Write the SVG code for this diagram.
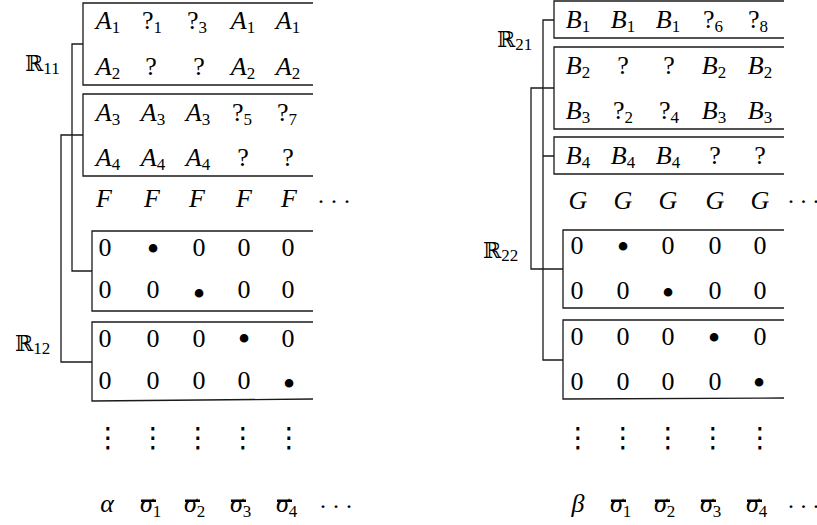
<svg xmlns="http://www.w3.org/2000/svg" width="817" height="525" viewBox="0 0 817 525">
<style>
text{font-family:"Liberation Serif",serif;font-size:26px;fill:#000;text-anchor:middle}
.i{font-style:italic}
.s{font-size:17px;font-style:normal}
.st{text-anchor:start}
.bb{font-family:"DejaVu Serif",serif;font-size:22px}
.bu{font-size:36px}
.vd{font-family:"Noto Sans CJK JP","DejaVu Sans",sans-serif;font-size:28px}
.dots{font-size:24px;text-anchor:start}
.box{fill:none;stroke:#1a1a1a;stroke-width:1.3}
.br{fill:none;stroke:#1a1a1a;stroke-width:1.3}
.bar{fill:#000}
</style>
<rect width="817" height="525" fill="#fff"/>
<g id="connectors">
<path class="br" d="M83,44 H72 V271 H92"/>
<path class="br" d="M83,135 H61 V362 H92"/>
<path class="br" d="M554,20 H543 V360 H563 M543,156 H554"/>
<path class="br" d="M554,88 H531 V269 H563"/>
</g>
<g id="labels">
<text class="st" x="25" y="71"><tspan class="bb">ℝ</tspan><tspan class="s" dy="3">11</tspan></text>
<text class="st" x="15" y="351"><tspan class="bb">ℝ</tspan><tspan class="s" dy="3">12</tspan></text>
<text class="st" x="497" y="47"><tspan class="bb">ℝ</tspan><tspan class="s" dy="3">21</tspan></text>
<text class="st" x="483" y="258"><tspan class="bb">ℝ</tspan><tspan class="s" dy="3">22</tspan></text>
</g>
<g id="box-A12">
<path class="box" d="M313,3 H83 V85 H313"/>
<text x="108" y="29"><tspan class="i">A</tspan><tspan class="s" dy="4">1</tspan></text>
<text x="152" y="29">?<tspan class="s" dy="4">1</tspan></text>
<text x="197" y="29">?<tspan class="s" dy="4">3</tspan></text>
<text x="243" y="29"><tspan class="i">A</tspan><tspan class="s" dy="4">1</tspan></text>
<text x="288" y="29"><tspan class="i">A</tspan><tspan class="s" dy="4">1</tspan></text>
<text x="108" y="75"><tspan class="i">A</tspan><tspan class="s" dy="4">2</tspan></text>
<text x="151" y="75">?</text>
<text x="199" y="75">?</text>
<text x="243" y="75"><tspan class="i">A</tspan><tspan class="s" dy="4">2</tspan></text>
<text x="288" y="75"><tspan class="i">A</tspan><tspan class="s" dy="4">2</tspan></text>
</g>
<g id="box-A34">
<path class="box" d="M313,94 H83 V176 H313"/>
<text x="108" y="121"><tspan class="i">A</tspan><tspan class="s" dy="4">3</tspan></text>
<text x="153" y="121"><tspan class="i">A</tspan><tspan class="s" dy="4">3</tspan></text>
<text x="198" y="121"><tspan class="i">A</tspan><tspan class="s" dy="4">3</tspan></text>
<text x="242" y="121">?<tspan class="s" dy="4">5</tspan></text>
<text x="287" y="121">?<tspan class="s" dy="4">7</tspan></text>
<text x="108" y="166"><tspan class="i">A</tspan><tspan class="s" dy="4">4</tspan></text>
<text x="153" y="166"><tspan class="i">A</tspan><tspan class="s" dy="4">4</tspan></text>
<text x="198" y="166"><tspan class="i">A</tspan><tspan class="s" dy="4">4</tspan></text>
<text x="243" y="166">?</text>
<text x="288" y="166">?</text>
</g>
<g id="row-F">
<text class="i" x="104" y="207">F</text>
<text class="i" x="152" y="207">F</text>
<text class="i" x="197" y="207">F</text>
<text class="i" x="244" y="207">F</text>
<text class="i" x="289" y="207">F</text>
<text class="dots" x="317" y="209">·<tspan dx="5">·</tspan><tspan dx="5">·</tspan></text>
</g>
<g id="box-L0a">
<path class="box" d="M313,231 H92 V311 H313"/>
<text x="105" y="256">0</text>
<text class="bu" x="153" y="261">•</text>
<text x="199" y="256">0</text>
<text x="244" y="256">0</text>
<text x="288" y="256">0</text>
<text x="105" y="298">0</text>
<text x="153" y="298">0</text>
<text class="bu" x="199" y="306">•</text>
<text x="244" y="298">0</text>
<text x="288" y="298">0</text>
</g>
<g id="box-L0b">
<path class="box" d="M313,322 H92 V401 L313,399"/>
<text x="105" y="347">0</text>
<text x="153" y="347">0</text>
<text x="199" y="347">0</text>
<text class="bu" x="244" y="351">•</text>
<text x="288" y="347">0</text>
<text x="105" y="389">0</text>
<text x="153" y="389">0</text>
<text x="199" y="389">0</text>
<text x="244" y="389">0</text>
<text class="bu" x="289" y="396">•</text>
</g>
<g id="vdots-left">
<text class="vd" x="108" y="447">⋮</text>
<text class="vd" x="153" y="447">⋮</text>
<text class="vd" x="198" y="447">⋮</text>
<text class="vd" x="243" y="447">⋮</text>
<text class="vd" x="289" y="447">⋮</text>
</g>
<g id="row-alpha">
<text class="i" x="107" y="512">α</text>
<rect class="bar" x="141" y="499.5" width="15" height="2.5"/>
<text class="st" x="140" y="512"><tspan class="i">σ</tspan><tspan class="s" dy="5">1</tspan></text>
<rect class="bar" x="185" y="499.5" width="15" height="2.5"/>
<text class="st" x="184" y="512"><tspan class="i">σ</tspan><tspan class="s" dy="5">2</tspan></text>
<rect class="bar" x="231" y="499.5" width="15" height="2.5"/>
<text class="st" x="230" y="512"><tspan class="i">σ</tspan><tspan class="s" dy="5">3</tspan></text>
<rect class="bar" x="277" y="499.5" width="15" height="2.5"/>
<text class="st" x="276" y="512"><tspan class="i">σ</tspan><tspan class="s" dy="5">4</tspan></text>
<text class="dots" x="319" y="514">·<tspan dx="5">·</tspan><tspan dx="5">·</tspan></text>
</g>
<g id="box-B1">
<path class="box" d="M784,1 H554 V38 H784"/>
<text x="578" y="28"><tspan class="i">B</tspan><tspan class="s" dy="4">1</tspan></text>
<text x="623" y="28"><tspan class="i">B</tspan><tspan class="s" dy="4">1</tspan></text>
<text x="668" y="28"><tspan class="i">B</tspan><tspan class="s" dy="4">1</tspan></text>
<text x="713" y="28">?<tspan class="s" dy="4">6</tspan></text>
<text x="758" y="28">?<tspan class="s" dy="4">8</tspan></text>
</g>
<g id="box-B23">
<path class="box" d="M784,47 H554 V129 H784"/>
<text x="578" y="74"><tspan class="i">B</tspan><tspan class="s" dy="4">2</tspan></text>
<text x="623" y="74">?</text>
<text x="669" y="74">?</text>
<text x="714" y="74"><tspan class="i">B</tspan><tspan class="s" dy="4">2</tspan></text>
<text x="760" y="74"><tspan class="i">B</tspan><tspan class="s" dy="4">2</tspan></text>
<text x="578" y="119"><tspan class="i">B</tspan><tspan class="s" dy="4">3</tspan></text>
<text x="623" y="119">?<tspan class="s" dy="4">2</tspan></text>
<text x="669" y="119">?<tspan class="s" dy="4">4</tspan></text>
<text x="714" y="119"><tspan class="i">B</tspan><tspan class="s" dy="4">3</tspan></text>
<text x="760" y="119"><tspan class="i">B</tspan><tspan class="s" dy="4">3</tspan></text>
</g>
<g id="box-B4">
<path class="box" d="M784,137 H554 V174 H784"/>
<text x="578" y="164"><tspan class="i">B</tspan><tspan class="s" dy="4">4</tspan></text>
<text x="623" y="164"><tspan class="i">B</tspan><tspan class="s" dy="4">4</tspan></text>
<text x="668" y="164"><tspan class="i">B</tspan><tspan class="s" dy="4">4</tspan></text>
<text x="715" y="164">?</text>
<text x="760" y="164">?</text>
</g>
<g id="row-G">
<text class="i" x="578" y="209">G</text>
<text class="i" x="623" y="209">G</text>
<text class="i" x="668" y="209">G</text>
<text class="i" x="715" y="209">G</text>
<text class="i" x="760" y="209">G</text>
<text class="dots" x="787" y="209">·<tspan dx="4.5">·</tspan><tspan dx="4.5">·</tspan></text>
</g>
<g id="box-R0a">
<path class="box" d="M784,230 H563 V308 H784"/>
<text x="577" y="254">0</text>
<text class="bu" x="623" y="259">•</text>
<text x="668" y="254">0</text>
<text x="715" y="254">0</text>
<text x="760" y="254">0</text>
<text x="577" y="299">0</text>
<text x="623" y="299">0</text>
<text class="bu" x="668" y="305">•</text>
<text x="715" y="299">0</text>
<text x="760" y="299">0</text>
</g>
<g id="box-R0b">
<path class="box" d="M784,320 H563 V399 L784,398"/>
<text x="577" y="345">0</text>
<text x="623" y="345">0</text>
<text x="668" y="345">0</text>
<text class="bu" x="714" y="350">•</text>
<text x="760" y="345">0</text>
<text x="577" y="390">0</text>
<text x="623" y="390">0</text>
<text x="668" y="390">0</text>
<text x="715" y="390">0</text>
<text class="bu" x="759" y="395">•</text>
</g>
<g id="vdots-right">
<text class="vd" x="578" y="447">⋮</text>
<text class="vd" x="623" y="447">⋮</text>
<text class="vd" x="668" y="447">⋮</text>
<text class="vd" x="713" y="447">⋮</text>
<text class="vd" x="760" y="447">⋮</text>
</g>
<g id="row-beta">
<text class="i" x="578" y="512">β</text>
<rect class="bar" x="611" y="499.5" width="15" height="2.5"/>
<text class="st" x="610" y="512"><tspan class="i">σ</tspan><tspan class="s" dy="5">1</tspan></text>
<rect class="bar" x="655" y="499.5" width="15" height="2.5"/>
<text class="st" x="654" y="512"><tspan class="i">σ</tspan><tspan class="s" dy="5">2</tspan></text>
<rect class="bar" x="701" y="499.5" width="15" height="2.5"/>
<text class="st" x="700" y="512"><tspan class="i">σ</tspan><tspan class="s" dy="5">3</tspan></text>
<rect class="bar" x="747" y="499.5" width="15" height="2.5"/>
<text class="st" x="746" y="512"><tspan class="i">σ</tspan><tspan class="s" dy="5">4</tspan></text>
<text class="dots" x="787" y="514">·<tspan dx="4.5">·</tspan><tspan dx="4.5">·</tspan></text>
</g>
</svg>
